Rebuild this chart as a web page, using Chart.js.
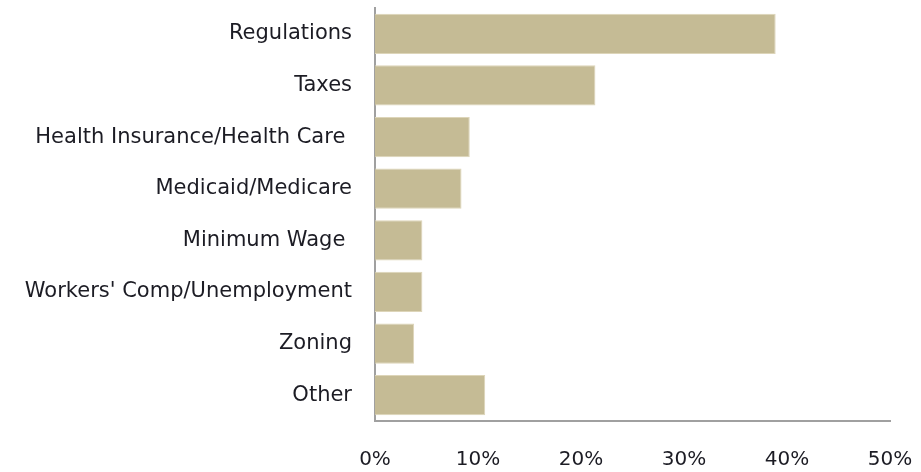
<!DOCTYPE html>
<html>
<head>
<meta charset="utf-8">
<script src="https://cdn.jsdelivr.net/npm/chart.js@4"></script>
<style>
  html, body { margin: 0; padding: 0; background: #fff; }
  #wrap { width: 921px; height: 472px; position: relative; }
</style>
</head>
<body>
<div id="wrap"><canvas id="c"></canvas></div>
<script>
// Share of respondents naming each issue (fraction of total)
const categories = [
  'Regulations',
  'Taxes',
  'Health Insurance/Health Care ',
  'Medicaid/Medicare',
  'Minimum Wage ',
  "Workers' Comp/Unemployment",
  'Zoning',
  'Other'
];
const shares = [0.389, 0.214, 0.092, 0.084, 0.046, 0.046, 0.038, 0.107];
const tickValues = [0, 0.1, 0.2, 0.3, 0.4, 0.5];

const fontFamily = "'DejaVu Sans', sans-serif";

new Chart(document.getElementById('c'), {
  type: 'bar',
  data: {
    labels: categories,
    datasets: [{
      data: shares,
      backgroundColor: '#c5bb95',
      borderColor: '#ddd5b9',
      borderWidth: 1,
      borderSkipped: 'start',
      barPercentage: 0.78,
      categoryPercentage: 1.0
    }]
  },
  options: {
    indexAxis: 'y',
    responsive: true,
    maintainAspectRatio: false,
    animation: false,
    layout: { padding: { top: 8, right: 31, bottom: 0, left: 0 } },
    plugins: { legend: { display: false }, tooltip: { enabled: false } },
    scales: {
      x: {
        min: 0,
        max: 0.5,
        afterBuildTicks: (scale) => { scale.ticks = tickValues.map(v => ({ value: v })); },
        afterFit: (scale) => {
          scale.height = 51;
          scale.paddingLeft = 0;
          scale.paddingRight = 0;
        },
        grid: { display: false, drawTicks: false },
        border: { display: true, color: '#a0a0a0', width: 2 },
        ticks: {
          padding: 27,
          color: '#1c1c24',
          font: { family: fontFamily, size: 20 },
          callback: (v) => Math.round(v * 100) + '%'
        }
      },
      y: {
        afterFit: (scale) => {
          scale.width = 375;
          scale.paddingTop = 0;
          scale.paddingBottom = 0;
        },
        grid: { display: false, drawTicks: false },
        border: { display: true, color: '#a0a0a0', width: 2 },
        ticks: {
          padding: 23,
          color: '#1c1c24',
          font: { family: fontFamily, size: 21 }
        }
      }
    }
  }
});
</script>
</body>
</html>
